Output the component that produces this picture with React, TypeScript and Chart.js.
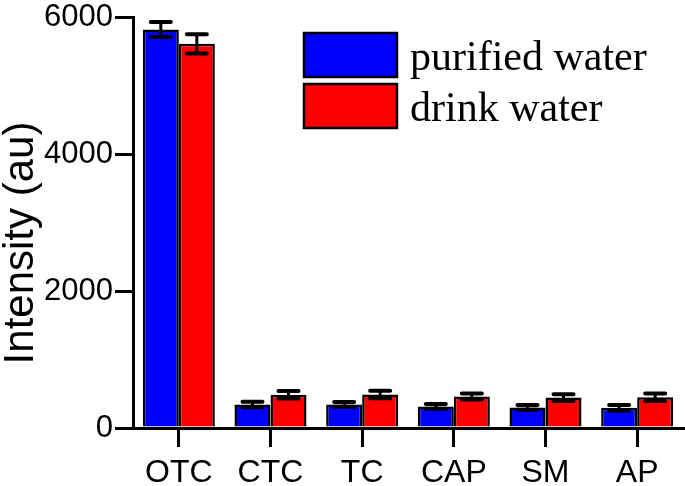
import React, { useEffect, useRef } from "react";
import { Chart, registerables } from "chart.js";

Chart.register(...registerables);

const categories = ["OTC", "CTC", "TC", "CAP", "SM", "AP"];
const seriesNames = ["purified water", "drink water"];
const purifiedWater = [5825, 345, 345, 315, 300, 295];
const drinkWater = [5615, 485, 490, 460, 445, 450];
const purifiedErr = [110, 40, 35, 35, 35, 40];
const drinkErr = [140, 55, 55, 45, 50, 55];
const yTicks = [0, 2000, 4000, 6000];
const yTitle = "Intensity (au)";

const SANS = '"Liberation Sans", Arial, sans-serif';
const SERIF = '"Liberation Serif", "Times New Roman", serif';

const errorBarPlugin = {
  id: "errorBars",
  afterDatasetsDraw(chart: any) {
    const ctx = chart.ctx;
    const yScale = chart.scales.y;
    chart.data.datasets.forEach((ds: any, di: number) => {
      const meta = chart.getDatasetMeta(di);
      meta.data.forEach((bar: any, i: number) => {
        const v = ds.data[i];
        const e = ds.errors[i];
        const yt = yScale.getPixelForValue(v + e);
        const yb = yScale.getPixelForValue(v - e);
        const x = bar.x;
        const hw = 10;
        ctx.save();
        ctx.strokeStyle = "#000";
        ctx.lineCap = "round";
        ctx.lineWidth = 3;
        ctx.beginPath();
        ctx.moveTo(x, yt);
        ctx.lineTo(x, yb);
        ctx.stroke();
        ctx.lineWidth = 4;
        ctx.beginPath();
        ctx.moveTo(x - hw, yt);
        ctx.lineTo(x + hw, yt);
        ctx.moveTo(x - hw, yb);
        ctx.lineTo(x + hw, yb);
        ctx.stroke();
        ctx.restore();
      });
    });
  },
};

const legendPlugin = {
  id: "boxLegend",
  afterDraw(chart: any) {
    const ctx = chart.ctx;
    const x0 = 303;
    const y0 = 32;
    const w = 95;
    const h = 46;
    const gap = 51;
    ctx.save();
    chart.data.datasets.forEach((ds: any, i: number) => {
      const y = y0 + i * gap;
      ctx.fillStyle = ds.backgroundColor;
      ctx.fillRect(x0, y, w, h);
      ctx.lineWidth = 2.5;
      ctx.strokeStyle = "#000";
      ctx.strokeRect(x0 + 1, y + 1, w - 2, h - 2);
      ctx.fillStyle = "#000";
      ctx.font = `42px ${SERIF}`;
      ctx.textAlign = "left";
      ctx.textBaseline = "alphabetic";
      ctx.fillText(ds.label, 410, y + 38);
    });
    ctx.restore();
  },
};

const yTitlePlugin = {
  id: "yTitle",
  afterDraw(chart: any) {
    const ctx = chart.ctx;
    ctx.save();
    ctx.translate(33, 243);
    ctx.rotate(-Math.PI / 2);
    ctx.fillStyle = "#000";
    ctx.font = `42px ${SANS}`;
    ctx.textAlign = "center";
    ctx.textBaseline = "alphabetic";
    ctx.fillText(yTitle, 0, 0);
    ctx.restore();
  },
};

export default function App() {
  const ref = useRef<HTMLCanvasElement>(null);

  useEffect(() => {
    const chart = new Chart(ref.current as HTMLCanvasElement, {
      type: "bar",
      data: {
        labels: categories,
        datasets: [
          {
            label: seriesNames[0],
            data: purifiedWater,
            errors: purifiedErr,
            backgroundColor: "#0000FF",
            borderColor: "#000000",
            borderWidth: 2.5,
            barPercentage: 1,
            categoryPercentage: 0.786,
          } as any,
          {
            label: seriesNames[1],
            data: drinkWater,
            errors: drinkErr,
            backgroundColor: "#FF0000",
            borderColor: "#000000",
            borderWidth: 2.5,
            barPercentage: 1,
            categoryPercentage: 0.786,
          } as any,
        ],
      },
      options: {
        responsive: false,
        animation: false,
        events: [],
        layout: { padding: { left: 0, top: 17, right: 2, bottom: 0 } },
        plugins: {
          legend: { display: false },
          tooltip: { enabled: false },
        },
        scales: {
          x: {
            offset: true,
            grid: {
              display: true,
              drawOnChartArea: false,
              offset: false,
              drawTicks: true,
              tickLength: 19,
              tickWidth: 3,
              tickColor: "#000",
              color: "#000",
              lineWidth: 3,
            },
            border: { display: true, color: "#000", width: 3 },
            ticks: {
              color: "#000",
              font: { family: SANS, size: 32, lineHeight: 1.2 },
              padding: 7,
              maxRotation: 0,
              autoSkip: false,
            },
            afterFit(scale: any) {
              scale.height = 58;
            },
          },
          y: {
            min: 0,
            max: 6000,
            afterBuildTicks(scale: any) {
              scale.ticks = yTicks.map((v) => ({ value: v }));
            },
            grid: {
              drawOnChartArea: false,
              drawTicks: true,
              tickLength: 18,
              tickWidth: 3,
              tickColor: "#000",
              color: "#000",
              lineWidth: 3,
            },
            border: { display: true, color: "#000", width: 3 },
            ticks: {
              color: "#000",
              font: { family: SANS, size: 31, lineHeight: 1 },
              padding: 2,
              callback: (v: any) => String(v),
            },
            afterFit(scale: any) {
              scale.width = 133;
            },
          },
        },
      } as any,
      plugins: [errorBarPlugin, legendPlugin, yTitlePlugin],
    });
    return () => chart.destroy();
  }, []);

  return (
    <div style={{ position: "absolute", left: 0, top: 0, width: 685, height: 486 }}>
      <canvas
        ref={ref}
        width={685}
        height={486}
        style={{ display: "block", width: 685, height: 486 }}
      />
    </div>
  );
}
